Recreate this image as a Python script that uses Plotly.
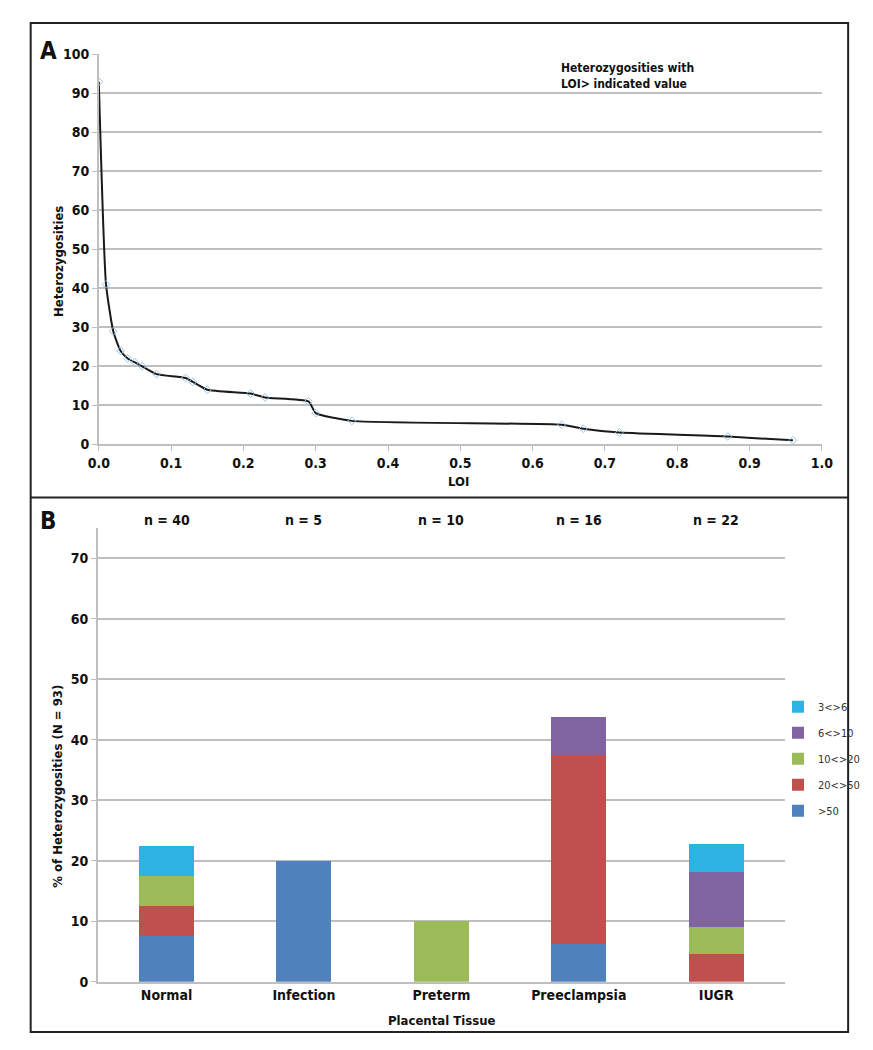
import plotly.graph_objects as go

# ---- Panel A data ----
loi = [0.0, 0.01, 0.02, 0.03, 0.04, 0.05, 0.06, 0.08, 0.12, 0.13, 0.15, 0.21, 0.23, 0.29, 0.30, 0.35, 0.64, 0.67, 0.72, 0.87, 0.96]
hetero = [93, 41, 29, 24, 22, 21, 20, 18, 17, 16, 14, 13, 12, 11, 8, 6, 5, 4, 3, 2, 1]

# ---- Panel B data ----
tissues = ["Normal", "Infection", "Preterm", "Preeclampsia", "IUGR"]
n_labels = ["n = 40", "n = 5", "n = 10", "n = 16", "n = 22"]
series_names = [">50", "20&lt;&gt;50", "10&lt;&gt;20", "6&lt;&gt;10", "3&lt;&gt;6"]
gt50 = [7.5, 20.0, 0.0, 6.25, 0.0]
s20_50 = [5.0, 0.0, 0.0, 31.25, 4.55]
s10_20 = [5.0, 0.0, 10.0, 0.0, 4.55]
s6_10 = [0.0, 0.0, 0.0, 6.25, 9.09]
s3_6 = [5.0, 0.0, 0.0, 0.0, 4.55]
series_values = [gt50, s20_50, s10_20, s6_10, s3_6]
series_colors = ["#4F81BD", "#C0504D", "#9BBB59", "#8064A2", "#2DB3E2"]

# page is 873x1050; the body keeps its default 8px margin
PAGE_MARGIN = 8
W, H = 873 - 2 * PAGE_MARGIN, 1050 - 2 * PAGE_MARGIN
FONT = "'DejaVu Sans Condensed', 'Liberation Sans Narrow', Roboto, sans-serif"
GRID = "#BFBFBF"

def px(x):
    return (x - PAGE_MARGIN) / W

def py(y):
    return 1 - (y - PAGE_MARGIN) / H

fig = go.Figure()

fig.add_trace(go.Scatter(
    x=loi, y=hetero, mode="lines+markers",
    line=dict(color="#1a1a1a", width=2, shape="spline", smoothing=0.5),
    marker=dict(symbol="diamond-open", size=6, color="#9CC3E5", line=dict(width=1, color="#9CC3E5")),
    xaxis="x", yaxis="y", showlegend=False,
))

for i, (name, vals, col) in enumerate(zip(series_names, series_values, series_colors)):
    fig.add_trace(go.Bar(
        x=tissues, y=vals, name=name, marker=dict(color=col, line=dict(width=0)),
        xaxis="x2", yaxis="y2", width=0.4, legendgroup=name, legendrank=100 - i,
    ))

tickfont = dict(family=FONT, size=14, color="#111", weight="bold")

fig.update_layout(
    width=W, height=H,
    margin=dict(l=0, r=0, t=0, b=0),
    paper_bgcolor="white", plot_bgcolor="white",
    barmode="stack",
    xaxis=dict(domain=[px(90), px(833)], anchor="y", range=[0, 1.0], dtick=0.1, tickformat=".1f",
               showgrid=False, zeroline=False, showline=True, linecolor=GRID, linewidth=1.5,
               ticks="outside", ticklen=5, tickcolor=GRID, tickfont=tickfont),
    yaxis=dict(domain=[py(443), py(47)], anchor="x", range=[0, 100], dtick=10,
               showgrid=True, gridcolor=GRID, gridwidth=1.5, zeroline=False,
               showline=True, linecolor=GRID, linewidth=1.5,
               ticks="outside", ticklen=5, tickcolor=GRID, tickfont=tickfont),
    xaxis2=dict(domain=[px(89), px(795)], anchor="y2", showgrid=False, zeroline=False,
                showline=True, linecolor=GRID, linewidth=1.5, ticks="", tickfont=tickfont),
    yaxis2=dict(domain=[py(989), py(528)], anchor="x2", range=[0, 75], tickvals=[0, 10, 20, 30, 40, 50, 60, 70],
                showgrid=True, gridcolor=GRID, gridwidth=1.5, zeroline=False,
                showline=True, linecolor=GRID, linewidth=1.5,
                ticks="outside", ticklen=5, tickcolor=GRID, tickfont=tickfont),
    legend=dict(x=px(788), y=py(695), xanchor="left", yanchor="top",
                traceorder="grouped", tracegroupgap=7,
                font=dict(family=FONT, size=11, color="#333"),
                itemwidth=30, bgcolor="rgba(0,0,0,0)"),
)

annotations = [
    dict(text="A", x=px(38), y=py(44), font=dict(family=FONT, size=24, color="#111", weight="bold")),
    dict(text="B", x=px(38), y=py(521), font=dict(family=FONT, size=24, color="#111", weight="bold")),
    dict(text="Heterozygosities", x=px(48), y=py(257), textangle=-90,
         font=dict(family=FONT, size=13, color="#111", weight="bold")),
    dict(text="LOI", x=px(460), y=py(481), font=dict(family=FONT, size=13, color="#111", weight="bold")),
    dict(text="Heterozygosities with<br>LOI&gt; indicated value", x=px(563), y=py(69), xanchor="left", align="left",
         font=dict(family=FONT, size=12, color="#111", weight="bold")),
    dict(text="% of Heterozygosities (N = 93)", x=px(48), y=py(790), textangle=-90,
         font=dict(family=FONT, size=13, color="#111", weight="bold")),
    dict(text="Placental Tissue", x=px(442), y=py(1028), font=dict(family=FONT, size=13, color="#111", weight="bold")),
]
for a in annotations:
    a.setdefault("xanchor", "center")
    a.update(xref="paper", yref="paper", showarrow=False, yanchor="middle")
    fig.add_annotation(**a)

for t, lab in zip(tissues, n_labels):
    fig.add_annotation(x=t, xref="x2", y=py(520), yref="paper", text=lab, showarrow=False,
                       font=dict(family=FONT, size=14, color="#111", weight="bold"), yanchor="middle")

# frame
fig.add_shape(type="rect", xref="paper", yref="paper", x0=px(20), x1=px(860), y0=py(1040), y1=py(15),
              line=dict(color="#222", width=2))
fig.add_shape(type="line", xref="paper", yref="paper", x0=px(20), x1=px(860), y0=py(497), y1=py(497),
              line=dict(color="#222", width=2))

fig.write_html("out.html", config={"displayModeBar": False})
